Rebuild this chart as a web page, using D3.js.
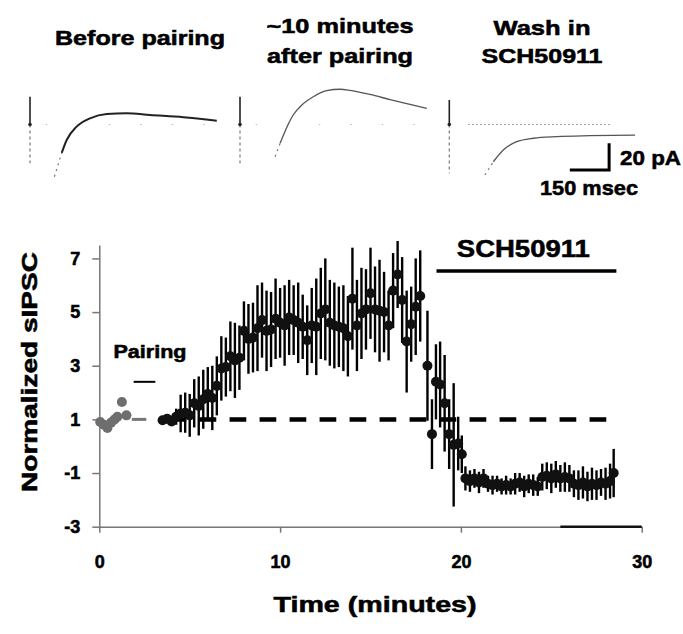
<!DOCTYPE html>
<html>
<head>
<meta charset="utf-8">
<script src="https://cdn.jsdelivr.net/npm/d3@7"></script>
<style>
  html, body { margin: 0; padding: 0; background: #fff; }
  svg { display: block; font-family: "Liberation Sans", Arial, Helvetica, sans-serif; font-weight: bold; }
  svg text { stroke: #000; stroke-width: 0.55px; }
</style>
</head>
<body>
<div id="chart"></div>
<script>
// ---- data ----

// main plot: baseline points before pairing (minutes, normalized sIPSC)
const baselinePoints = [
  [0.05, 0.9], [0.25, 0.8], [0.45, 0.68], [0.65, 0.88],
  [0.85, 1.0], [1.0, 1.1], [1.25, 1.65], [1.5, 1.15]
];

// main plot: after pairing (minutes, mean, error)
const sipscPoints = [
  [3.5, 0.97, 0.08], [3.75, 1.02, 0.1], [4.0, 0.92, 0.12], [4.25, 1.1, 0.3],
  [4.5, 1.22, 0.7], [4.75, 1.25, 0.75], [5.0, 1.15, 0.8], [5.25, 1.6, 0.9],
  [5.5, 1.5, 1.1], [5.75, 1.75, 1.1], [6.0, 1.95, 1.0], [6.25, 1.8, 1.2],
  [6.5, 2.25, 1.1], [6.75, 2.9, 1.2], [7.0, 2.95, 1.1], [7.25, 3.35, 1.3],
  [7.5, 3.2, 1.4], [7.75, 3.3, 1.2], [8.0, 4.3, 1.1], [8.25, 4.0, 1.3],
  [8.5, 4.05, 1.3], [8.75, 4.4, 1.6], [9.0, 4.7, 1.4], [9.25, 4.3, 1.5],
  [9.5, 4.35, 1.4], [9.75, 4.75, 1.5], [10.0, 4.6, 1.3], [10.25, 4.5, 1.5],
  [10.5, 4.8, 1.4], [10.75, 4.7, 1.3], [11.0, 4.6, 1.5], [11.25, 4.45, 1.2],
  [11.5, 3.95, 1.3], [11.75, 4.5, 1.4], [12.0, 4.45, 1.8], [12.25, 4.95, 1.7],
  [12.5, 5.1, 1.9], [12.75, 4.6, 1.6], [13.0, 4.5, 1.6], [13.25, 4.45, 1.5],
  [13.5, 4.4, 1.6], [13.75, 4.1, 1.5], [14.0, 5.5, 1.9], [14.25, 4.5, 1.7],
  [14.5, 4.95, 1.7], [14.75, 5.1, 1.5], [15.0, 5.7, 1.7], [15.25, 5.1, 1.6],
  [15.5, 5.05, 1.9], [15.75, 5.0, 1.5], [16.0, 4.5, 1.3], [16.25, 5.8, 1.4],
  [16.5, 6.4, 1.25], [16.75, 5.45, 1.6], [17.0, 3.9, 1.9], [17.25, 4.55, 1.4],
  [17.5, 5.2, 1.8], [17.75, 5.6, 1.7],
  [18.15, 3.0, 2.05], [18.4, 0.45, 1.3], [18.62, 2.4, 1.4], [18.85, 2.3, 1.6],
  [19.1, 1.6, 1.8], [19.35, 0.45, 1.3], [19.6, 0.05, 2.3], [19.85, 0.1, 1.0],
  [20.05, -0.3, 0.7],
  [20.25, -1.2, 0.45], [20.5, -1.3, 0.4], [20.75, -1.2, 0.35], [21.0, -1.35, 0.4],
  [21.25, -1.2, 0.35], [21.5, -1.4, 0.3], [21.75, -1.45, 0.35], [22.0, -1.4, 0.3],
  [22.25, -1.5, 0.3], [22.5, -1.45, 0.35], [22.75, -1.5, 0.3], [23.0, -1.4, 0.4],
  [23.25, -1.35, 0.35], [23.5, -1.5, 0.4], [23.75, -1.4, 0.35], [24.0, -1.45, 0.4],
  [24.25, -1.5, 0.35], [24.5, -1.15, 0.5], [24.75, -1.1, 0.5], [25.0, -1.2, 0.55],
  [25.25, -1.05, 0.5], [25.5, -1.2, 0.5], [25.75, -1.15, 0.55], [26.0, -1.2, 0.5],
  [26.25, -1.4, 0.5], [26.5, -1.45, 0.55], [26.75, -1.35, 0.6], [27.0, -1.5, 0.55],
  [27.25, -1.4, 0.6], [27.5, -1.45, 0.55], [27.75, -1.35, 0.5], [28.0, -1.4, 0.6],
  [28.25, -1.3, 0.65], [28.45, -1.0, 0.9]
];

const xTicks = [0, 10, 20, 30];
const yTicks = [-3, -1, 1, 3, 5, 7];
const referenceLevel = 1;
const referenceSpan = [3.5, 28.6];
const baselineSegment = [1.8, 2.6];
const pairingPeriod = [1.9, 3.1];
const pairingLevel = 2.4;
const drugPeriod = [18.65, 28.6];
const drugLevel = 6.53;
const axisOverlay = [25.5, 30];

// example traces (msec after stimulus, pA)
const traceBefore = [
  [93, -39.1], [121, -21.3], [140, -11.6], [178, -1.6], [229, 4.6], [293, 7.9],
  [369, 8.4], [458, 7.1], [585, 5.4], [713, 2.8]
];
const traceAfter = [
  [134, -24.1], [153, -14.1], [181, -1.1], [203, 7.1], [236, 14.6], [280, 20.8],
  [331, 25.3], [382, 26.4], [420, 25.6], [496, 22.5], [573, 18.7], [649, 15.1], [713, 12.1]
];
const traceWash = [
  [136, -37.8], [168, -27.9], [206, -19.1], [257, -12.9], [321, -10.3],
  [410, -9.1], [537, -8.4], [709, -7.9]
];
const traceArtifacts = [[20.8, -29], [20.8, -29], [18.4, -36.6]];
const traceTitles = [["Before pairing"], ["~10 minutes", "after pairing"], ["Wash in", "SCH50911"]];
const scaleBarMs = 150;
const scaleBarPa = 20;

// ---- drawing ----
const svg = d3.select('#chart').append('svg')
  .attr('width', 683)
  .attr('height', 634);

// traces panels
const trace_origins = [30, 240, 449.3];
const trace_title_x = [140, 340, 542];
const trace_px_per_ms = 39.3 / scaleBarMs;
const traceY = d3.scaleLinear().domain([0, scaleBarPa]).range([124.5, 97.8]);
const traceSets = [traceBefore, traceAfter, traceWash];
const title_widths = [[170], [147, 146], [97, 121]];

traceSets.forEach(function (trace, i) {
  const origin = trace_origins[i];
  const tx = d3.scaleLinear().domain([0, scaleBarMs]).range([origin, origin + scaleBarMs * trace_px_per_ms]);
  const layer = svg.append('g');

  // baseline (dotted)
  layer.append('line')
    .attr('x1', tx(i === 2 ? 72 : 60)).attr('x2', tx(i === 2 ? 613 : 700))
    .attr('y1', traceY(0)).attr('y2', traceY(0))
    .attr('stroke', i === 2 ? '#888' : '#bbb')
    .attr('stroke-width', 1)
    .attr('stroke-dasharray', i === 2 ? '1.5 2.5' : '1.5 30');

  // stimulus artifact
  const art = traceArtifacts[i];
  layer.append('line')
    .attr('x1', tx(0)).attr('x2', tx(0))
    .attr('y1', traceY(art[0])).attr('y2', traceY(0))
    .attr('stroke', '#222').attr('stroke-width', 1.6);
  layer.append('line')
    .attr('x1', tx(0)).attr('x2', tx(0))
    .attr('y1', traceY(0)).attr('y2', traceY(art[1]))
    .attr('stroke', '#777').attr('stroke-width', 1.2)
    .attr('stroke-dasharray', '3 3');
  layer.append('circle')
    .attr('cx', tx(0)).attr('cy', traceY(0)).attr('r', 1.8).attr('fill', '#222');

  const line = d3.line()
    .x(function (d) { return tx(d[0]) })
    .y(function (d) { return traceY(d[1]) })
    .curve(d3.curveMonotoneX);

  // fast rising phase drawn faint
  layer.append('path')
    .attr('d', line(trace.slice(0, 2)))
    .attr('fill', 'none')
    .attr('stroke', '#777')
    .attr('stroke-width', 1.2)
    .attr('stroke-dasharray', '2 4');
  layer.append('path')
    .attr('d', line(trace.slice(1)))
    .attr('fill', 'none')
    .attr('stroke', i === 0 ? '#222' : '#555')
    .attr('stroke-width', i === 0 ? 2 : 1.3);

  // titles
  const baselines = traceTitles[i].length === 1 ? [45] : (i === 1 ? [33.3, 63.3] : [35, 63.3]);
  traceTitles[i].forEach(function (txt, j) {
    layer.append('text')
      .attr('x', trace_title_x[i])
      .attr('y', baselines[j])
      .attr('text-anchor', 'middle')
      .attr('font-size', 21)
      .attr('textLength', title_widths[i][j])
      .attr('lengthAdjust', 'spacingAndGlyphs')
      .text(txt);
  });

  // scale bar on the last panel
  if (i === 2) {
    const corner_ms = 610;
    const corner_pa = -34;
    layer.append('path')
      .attr('d', 'M' + tx(corner_ms - scaleBarMs) + ',' + traceY(corner_pa) +
        'H' + tx(corner_ms) + 'V' + traceY(corner_pa + scaleBarPa))
      .attr('fill', 'none')
      .attr('stroke', '#000')
      .attr('stroke-width', 3);
    layer.append('text')
      .attr('x', 620).attr('y', 165)
      .attr('font-size', 21)
      .attr('textLength', 61)
      .attr('lengthAdjust', 'spacingAndGlyphs')
      .text(scaleBarPa + ' pA');
    layer.append('text')
      .attr('x', 540).attr('y', 195)
      .attr('font-size', 21)
      .attr('textLength', 98)
      .attr('lengthAdjust', 'spacingAndGlyphs')
      .text(scaleBarMs + ' msec');
  }
});

// main plot
const x = d3.scaleLinear().domain([0, 30]).range([99.3, 641.7]);
const y = d3.scaleLinear().domain([-3, 7.5]).range([526.7, 245]);

function xAxis(layer) {
  layer.call(
    d3.axisBottom(x)
      .tickValues(xTicks)
      .tickFormat(function (d) { return String(d) })
      .tickSize(6)
      .tickSizeOuter(0)
      .tickPadding(23)
  )
  layer.select('.domain').attr('stroke', '#777').attr('stroke-width', 1.5);
  layer.selectAll('.tick line').attr('stroke', '#777').attr('stroke-width', 1.5);
  layer.selectAll('.tick text')
    .attr('font-size', 18)
    .attr('font-family', '"Liberation Sans", Arial, sans-serif')
    .attr('font-weight', 'bold')
    .attr('fill', '#000');
}

function yAxis(layer) {
  layer.call(
    d3.axisLeft(y)
      .tickValues(yTicks)
      .tickFormat(function (d) { return String(d) })
      .tickSize(7)
      .tickSizeOuter(0)
      .tickPadding(12)
  )
  layer.select('.domain').attr('stroke', '#777').attr('stroke-width', 1.5);
  layer.selectAll('.tick line').attr('stroke', '#777').attr('stroke-width', 1.5);
  layer.selectAll('.tick text')
    .attr('font-size', 18)
    .attr('font-family', '"Liberation Sans", Arial, sans-serif')
    .attr('font-weight', 'bold')
    .attr('fill', '#000');
}

svg.append('g').attr('transform', 'translate(0,' + y(-3) + ')').call(xAxis);
svg.append('g').attr('transform', 'translate(' + x(0) + ',0)').call(yAxis);

// darker segment lying on the x axis
svg.append('line')
  .attr('x1', x(axisOverlay[0])).attr('x2', x(axisOverlay[1]))
  .attr('y1', y(-3)).attr('y2', y(-3))
  .attr('stroke', '#111').attr('stroke-width', 2.5);

// reference level lines
svg.append('line')
  .attr('x1', x(baselineSegment[0])).attr('x2', x(baselineSegment[1]))
  .attr('y1', y(referenceLevel)).attr('y2', y(referenceLevel))
  .attr('stroke', '#777').attr('stroke-width', 3);
svg.append('line')
  .attr('x1', x(referenceSpan[0])).attr('x2', x(referenceSpan[1]))
  .attr('y1', y(referenceLevel)).attr('y2', y(referenceLevel))
  .attr('stroke', '#000').attr('stroke-width', 4.5)
  .attr('stroke-dasharray', '16.7 13.3')
  .attr('stroke-dashoffset', -7);

// pairing and drug bars
svg.append('line')
  .attr('x1', x(pairingPeriod[0])).attr('x2', x(pairingPeriod[1]))
  .attr('y1', y(pairingLevel)).attr('y2', y(pairingLevel))
  .attr('stroke', '#000').attr('stroke-width', 2);
svg.append('text')
  .attr('x', 150).attr('y', 358.3)
  .attr('text-anchor', 'middle')
  .attr('font-size', 18)
  .attr('textLength', 73)
  .attr('lengthAdjust', 'spacingAndGlyphs')
  .text('Pairing');

svg.append('line')
  .attr('x1', x(drugPeriod[0])).attr('x2', x(drugPeriod[1]))
  .attr('y1', y(drugLevel)).attr('y2', y(drugLevel))
  .attr('stroke', '#000').attr('stroke-width', 3.5);
svg.append('text')
  .attr('x', 523.3).attr('y', 256.7)
  .attr('text-anchor', 'middle')
  .attr('font-size', 24)
  .attr('textLength', 133)
  .attr('lengthAdjust', 'spacingAndGlyphs')
  .text('SCH50911');

// gray baseline points
svg.append('g').selectAll('circle')
  .data(baselinePoints)
  .enter().append('circle')
    .attr('cx', function (d) { return x(d[0]) })
    .attr('cy', function (d) { return y(d[1]) })
    .attr('r', 5)
    .attr('fill', '#6e6e6e');

// error bars, then dots on top
const pointLayer = svg.append('g');
pointLayer.selectAll('.err')
  .data(sipscPoints)
  .enter().append('line')
    .attr('class', 'err')
    .attr('x1', function (d) { return x(d[0]) })
    .attr('x2', function (d) { return x(d[0]) })
    .attr('y1', function (d) { return y(d[1] - d[2]) })
    .attr('y2', function (d) { return y(d[1] + d[2]) })
    .attr('stroke', '#000')
    .attr('stroke-width', 2.4);
pointLayer.selectAll('.dot')
  .data(sipscPoints)
  .enter().append('circle')
    .attr('class', 'dot')
    .attr('cx', function (d) { return x(d[0]) })
    .attr('cy', function (d) { return y(d[1]) })
    .attr('r', 5)
    .attr('fill', '#111');

// axis titles
svg.append('text')
  .attr('transform', 'translate(37,372) rotate(-90)')
  .attr('text-anchor', 'middle')
  .attr('font-size', 22)
  .attr('textLength', 240)
  .attr('lengthAdjust', 'spacingAndGlyphs')
  .text('Normalized sIPSC');

svg.append('text')
  .attr('x', 375).attr('y', 612)
  .attr('text-anchor', 'middle')
  .attr('font-size', 22)
  .attr('textLength', 203)
  .attr('lengthAdjust', 'spacingAndGlyphs')
  .text('Time (minutes)');
</script>
</body>
</html>
